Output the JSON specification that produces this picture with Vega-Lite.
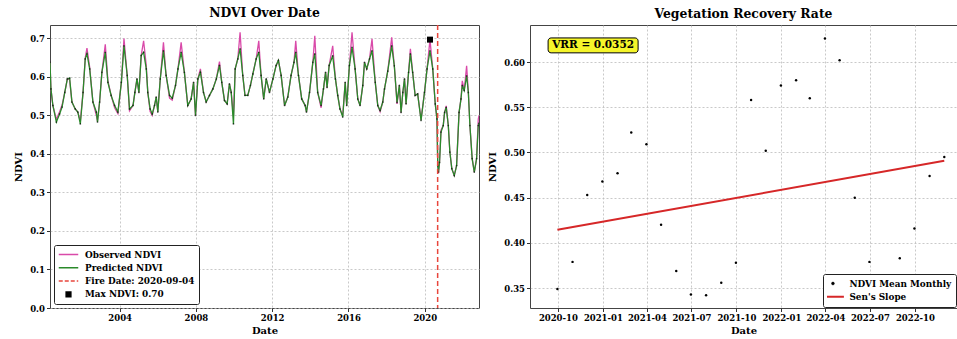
{
  "$schema": "https://vega.github.io/schema/vega-lite/v6.json",
  "background": "white",
  "padding": {"left": 13, "top": 6, "right": 1, "bottom": 2},
  "spacing": 7,
  "config": {
    "font": "DejaVu Serif",
    "view": {"stroke": "#444", "strokeWidth": 1},
    "axis": {"labelFont": "DejaVu Serif", "labelFontWeight": "bold", "labelFontSize": 8.5, "labelColor": "black", "titleFont": "DejaVu Serif", "titleFontWeight": "bold", "titleFontSize": 10, "titleColor": "black", "domain": false, "tickColor": "#333", "tickSize": 3.5, "gridColor": "#bbbbbb", "gridDash": [2, 2], "gridWidth": 0.8, "labelOverlap": false, "labelFlush": false},
    "title": {"font": "DejaVu Serif", "fontWeight": "bold", "fontSize": 12.4, "color": "black", "offset": 5},
    "legend": {"labelFont": "DejaVu Serif", "labelFontWeight": "bold", "labelFontSize": 8.9, "labelColor": "black"}
  },
  "datasets": {
    "ndvi": [
      {"date": "2000-05-07", "obs": 0.638, "pred": 0.638},
      {"date": "2000-05-25", "obs": 0.569, "pred": 0.569},
      {"date": "2000-07-01", "obs": 0.526, "pred": 0.526},
      {"date": "2000-09-06", "obs": 0.49, "pred": 0.483},
      {"date": "2000-11-07", "obs": 0.51, "pred": 0.504},
      {"date": "2000-12-24", "obs": 0.527, "pred": 0.522},
      {"date": "2001-02-14", "obs": 0.56, "pred": 0.56},
      {"date": "2001-04-04", "obs": 0.595, "pred": 0.595},
      {"date": "2001-05-18", "obs": 0.593, "pred": 0.597},
      {"date": "2001-07-01", "obs": 0.535, "pred": 0.535},
      {"date": "2001-09-02", "obs": 0.517, "pred": 0.517},
      {"date": "2001-10-22", "obs": 0.509, "pred": 0.509},
      {"date": "2001-12-09", "obs": 0.485, "pred": 0.478},
      {"date": "2002-01-30", "obs": 0.56, "pred": 0.56},
      {"date": "2002-03-13", "obs": 0.65, "pred": 0.647},
      {"date": "2002-04-15", "obs": 0.675, "pred": 0.66},
      {"date": "2002-06-06", "obs": 0.625, "pred": 0.621},
      {"date": "2002-08-07", "obs": 0.535, "pred": 0.535},
      {"date": "2002-10-12", "obs": 0.5, "pred": 0.509},
      {"date": "2002-11-03", "obs": 0.485, "pred": 0.483},
      {"date": "2002-12-13", "obs": 0.535, "pred": 0.535},
      {"date": "2003-01-26", "obs": 0.612, "pred": 0.612},
      {"date": "2003-04-01", "obs": 0.685, "pred": 0.664},
      {"date": "2003-05-21", "obs": 0.59, "pred": 0.586},
      {"date": "2003-07-22", "obs": 0.552, "pred": 0.552},
      {"date": "2003-09-27", "obs": 0.52, "pred": 0.526},
      {"date": "2003-11-28", "obs": 0.505, "pred": 0.509},
      {"date": "2004-02-03", "obs": 0.586, "pred": 0.586},
      {"date": "2004-03-24", "obs": 0.7, "pred": 0.681},
      {"date": "2004-05-25", "obs": 0.604, "pred": 0.604},
      {"date": "2004-07-08", "obs": 0.512, "pred": 0.517},
      {"date": "2004-09-13", "obs": 0.526, "pred": 0.526},
      {"date": "2004-10-19", "obs": 0.56, "pred": 0.56},
      {"date": "2004-11-28", "obs": 0.595, "pred": 0.595},
      {"date": "2005-01-04", "obs": 0.56, "pred": 0.56},
      {"date": "2005-02-17", "obs": 0.656, "pred": 0.656},
      {"date": "2005-04-04", "obs": 0.694, "pred": 0.664},
      {"date": "2005-05-25", "obs": 0.63, "pred": 0.621},
      {"date": "2005-06-23", "obs": 0.56, "pred": 0.56},
      {"date": "2005-08-07", "obs": 0.51, "pred": 0.517},
      {"date": "2005-09-16", "obs": 0.5, "pred": 0.504},
      {"date": "2005-10-30", "obs": 0.526, "pred": 0.526},
      {"date": "2005-12-02", "obs": 0.548, "pred": 0.548},
      {"date": "2006-01-01", "obs": 0.509, "pred": 0.509},
      {"date": "2006-02-17", "obs": 0.595, "pred": 0.595},
      {"date": "2006-04-19", "obs": 0.69, "pred": 0.668},
      {"date": "2006-06-09", "obs": 0.604, "pred": 0.604},
      {"date": "2006-08-14", "obs": 0.545, "pred": 0.552},
      {"date": "2006-10-04", "obs": 0.54, "pred": 0.545},
      {"date": "2006-12-06", "obs": 0.578, "pred": 0.578},
      {"date": "2007-01-22", "obs": 0.621, "pred": 0.621},
      {"date": "2007-03-24", "obs": 0.69, "pred": 0.664},
      {"date": "2007-05-25", "obs": 0.612, "pred": 0.612},
      {"date": "2007-07-29", "obs": 0.526, "pred": 0.526},
      {"date": "2007-10-01", "obs": 0.543, "pred": 0.543},
      {"date": "2007-11-17", "obs": 0.586, "pred": 0.586},
      {"date": "2007-12-24", "obs": 0.5, "pred": 0.5},
      {"date": "2008-02-07", "obs": 0.595, "pred": 0.595},
      {"date": "2008-03-27", "obs": 0.621, "pred": 0.612},
      {"date": "2008-05-25", "obs": 0.56, "pred": 0.56},
      {"date": "2008-07-15", "obs": 0.535, "pred": 0.535},
      {"date": "2008-09-16", "obs": 0.552, "pred": 0.552},
      {"date": "2008-11-21", "obs": 0.569, "pred": 0.569},
      {"date": "2009-01-26", "obs": 0.595, "pred": 0.595},
      {"date": "2009-03-27", "obs": 0.64, "pred": 0.63},
      {"date": "2009-05-10", "obs": 0.586, "pred": 0.586},
      {"date": "2009-07-01", "obs": 0.539, "pred": 0.539},
      {"date": "2009-08-21", "obs": 0.53, "pred": 0.53},
      {"date": "2009-10-04", "obs": 0.582, "pred": 0.582},
      {"date": "2009-11-07", "obs": 0.56, "pred": 0.56},
      {"date": "2009-12-20", "obs": 0.5, "pred": 0.478},
      {"date": "2010-01-22", "obs": 0.621, "pred": 0.621},
      {"date": "2010-03-13", "obs": 0.647, "pred": 0.647},
      {"date": "2010-04-26", "obs": 0.716, "pred": 0.673},
      {"date": "2010-06-16", "obs": 0.604, "pred": 0.604},
      {"date": "2010-07-29", "obs": 0.552, "pred": 0.552},
      {"date": "2010-09-20", "obs": 0.552, "pred": 0.552},
      {"date": "2010-11-10", "obs": 0.578, "pred": 0.578},
      {"date": "2010-12-27", "obs": 0.608, "pred": 0.608},
      {"date": "2011-02-28", "obs": 0.647, "pred": 0.647},
      {"date": "2011-04-19", "obs": 0.694, "pred": 0.664},
      {"date": "2011-06-02", "obs": 0.604, "pred": 0.604},
      {"date": "2011-07-22", "obs": 0.543, "pred": 0.543},
      {"date": "2011-09-09", "obs": 0.595, "pred": 0.595},
      {"date": "2011-11-10", "obs": 0.56, "pred": 0.56},
      {"date": "2012-01-15", "obs": 0.595, "pred": 0.595},
      {"date": "2012-03-16", "obs": 0.63, "pred": 0.63},
      {"date": "2012-04-29", "obs": 0.643, "pred": 0.643},
      {"date": "2012-06-20", "obs": 0.604, "pred": 0.604},
      {"date": "2012-08-25", "obs": 0.526, "pred": 0.526},
      {"date": "2012-10-26", "obs": 0.548, "pred": 0.548},
      {"date": "2012-12-27", "obs": 0.604, "pred": 0.604},
      {"date": "2013-02-21", "obs": 0.638, "pred": 0.638},
      {"date": "2013-03-27", "obs": 0.694, "pred": 0.664},
      {"date": "2013-05-18", "obs": 0.604, "pred": 0.604},
      {"date": "2013-07-19", "obs": 0.543, "pred": 0.543},
      {"date": "2013-09-23", "obs": 0.526, "pred": 0.526},
      {"date": "2013-10-19", "obs": 0.509, "pred": 0.509},
      {"date": "2013-12-16", "obs": 0.56, "pred": 0.56},
      {"date": "2014-02-17", "obs": 0.638, "pred": 0.638},
      {"date": "2014-03-27", "obs": 0.707, "pred": 0.66},
      {"date": "2014-05-21", "obs": 0.56, "pred": 0.56},
      {"date": "2014-07-26", "obs": 0.52, "pred": 0.526},
      {"date": "2014-09-09", "obs": 0.569, "pred": 0.569},
      {"date": "2014-10-19", "obs": 0.612, "pred": 0.612},
      {"date": "2014-11-17", "obs": 0.573, "pred": 0.573},
      {"date": "2014-12-27", "obs": 0.63, "pred": 0.63},
      {"date": "2015-03-05", "obs": 0.681, "pred": 0.655},
      {"date": "2015-04-26", "obs": 0.595, "pred": 0.595},
      {"date": "2015-06-09", "obs": 0.552, "pred": 0.552},
      {"date": "2015-07-22", "obs": 0.517, "pred": 0.517},
      {"date": "2015-09-13", "obs": 0.5, "pred": 0.496},
      {"date": "2015-10-30", "obs": 0.586, "pred": 0.586},
      {"date": "2015-11-28", "obs": 0.526, "pred": 0.526},
      {"date": "2016-01-19", "obs": 0.63, "pred": 0.63},
      {"date": "2016-03-09", "obs": 0.716, "pred": 0.677},
      {"date": "2016-05-07", "obs": 0.621, "pred": 0.621},
      {"date": "2016-06-27", "obs": 0.543, "pred": 0.543},
      {"date": "2016-08-10", "obs": 0.526, "pred": 0.526},
      {"date": "2016-10-01", "obs": 0.578, "pred": 0.578},
      {"date": "2016-11-03", "obs": 0.638, "pred": 0.638},
      {"date": "2016-12-16", "obs": 0.621, "pred": 0.621},
      {"date": "2017-02-07", "obs": 0.647, "pred": 0.647},
      {"date": "2017-03-27", "obs": 0.699, "pred": 0.668},
      {"date": "2017-05-28", "obs": 0.586, "pred": 0.586},
      {"date": "2017-07-15", "obs": 0.526, "pred": 0.526},
      {"date": "2017-08-29", "obs": 0.51, "pred": 0.513},
      {"date": "2017-10-19", "obs": 0.535, "pred": 0.535},
      {"date": "2017-11-21", "obs": 0.569, "pred": 0.569},
      {"date": "2018-01-22", "obs": 0.615, "pred": 0.615},
      {"date": "2018-04-08", "obs": 0.703, "pred": 0.681},
      {"date": "2018-05-28", "obs": 0.629, "pred": 0.629},
      {"date": "2018-07-19", "obs": 0.53, "pred": 0.534},
      {"date": "2018-09-02", "obs": 0.578, "pred": 0.578},
      {"date": "2018-10-04", "obs": 0.508, "pred": 0.508},
      {"date": "2018-11-07", "obs": 0.56, "pred": 0.56},
      {"date": "2018-12-09", "obs": 0.595, "pred": 0.595},
      {"date": "2019-01-08", "obs": 0.53, "pred": 0.53},
      {"date": "2019-02-25", "obs": 0.612, "pred": 0.612},
      {"date": "2019-04-01", "obs": 0.673, "pred": 0.66},
      {"date": "2019-05-14", "obs": 0.612, "pred": 0.612},
      {"date": "2019-07-01", "obs": 0.552, "pred": 0.552},
      {"date": "2019-08-18", "obs": 0.556, "pred": 0.556},
      {"date": "2019-10-22", "obs": 0.49, "pred": 0.487},
      {"date": "2019-12-27", "obs": 0.56, "pred": 0.56},
      {"date": "2020-02-14", "obs": 0.621, "pred": 0.621},
      {"date": "2020-04-10", "obs": 0.697, "pred": 0.668},
      {"date": "2020-06-02", "obs": 0.621, "pred": 0.621},
      {"date": "2020-07-20", "obs": 0.53, "pred": 0.53},
      {"date": "2020-08-22", "obs": 0.49, "pred": 0.491},
      {"date": "2020-09-06", "obs": 0.37, "pred": 0.37},
      {"date": "2020-09-20", "obs": 0.35, "pred": 0.353},
      {"date": "2020-10-10", "obs": 0.38, "pred": 0.378},
      {"date": "2020-11-07", "obs": 0.462, "pred": 0.457},
      {"date": "2020-12-20", "obs": 0.474, "pred": 0.474},
      {"date": "2021-01-15", "obs": 0.508, "pred": 0.508},
      {"date": "2021-02-15", "obs": 0.525, "pred": 0.521},
      {"date": "2021-03-27", "obs": 0.474, "pred": 0.474},
      {"date": "2021-04-26", "obs": 0.405, "pred": 0.405},
      {"date": "2021-06-02", "obs": 0.362, "pred": 0.362},
      {"date": "2021-07-19", "obs": 0.344, "pred": 0.344},
      {"date": "2021-09-02", "obs": 0.37, "pred": 0.37},
      {"date": "2021-10-19", "obs": 0.508, "pred": 0.508},
      {"date": "2021-11-25", "obs": 0.543, "pred": 0.543},
      {"date": "2021-12-20", "obs": 0.59, "pred": 0.578},
      {"date": "2022-01-26", "obs": 0.565, "pred": 0.565},
      {"date": "2022-03-13", "obs": 0.629, "pred": 0.603},
      {"date": "2022-04-15", "obs": 0.56, "pred": 0.56},
      {"date": "2022-05-15", "obs": 0.474, "pred": 0.474},
      {"date": "2022-06-27", "obs": 0.388, "pred": 0.388},
      {"date": "2022-08-07", "obs": 0.353, "pred": 0.353},
      {"date": "2022-09-20", "obs": 0.388, "pred": 0.388},
      {"date": "2022-10-22", "obs": 0.49, "pred": 0.474},
      {"date": "2022-11-05", "obs": 0.5, "pred": 0.48}
    ],
    "fire": [{"date": "2020-09-04"}],
    "maxpt": [{"date": "2020-04-10", "ndvi": 0.697}],
    "monthly": [
      {"date": "2020-09-30", "ndvi": 0.349},
      {"date": "2020-10-31", "ndvi": 0.379},
      {"date": "2020-11-30", "ndvi": 0.453},
      {"date": "2020-12-31", "ndvi": 0.468},
      {"date": "2021-01-31", "ndvi": 0.477},
      {"date": "2021-02-28", "ndvi": 0.522},
      {"date": "2021-03-31", "ndvi": 0.509},
      {"date": "2021-04-30", "ndvi": 0.42},
      {"date": "2021-05-31", "ndvi": 0.369},
      {"date": "2021-06-30", "ndvi": 0.343},
      {"date": "2021-07-31", "ndvi": 0.342},
      {"date": "2021-08-31", "ndvi": 0.356},
      {"date": "2021-09-30", "ndvi": 0.378},
      {"date": "2021-10-31", "ndvi": 0.558},
      {"date": "2021-11-30", "ndvi": 0.502},
      {"date": "2021-12-31", "ndvi": 0.574},
      {"date": "2022-01-31", "ndvi": 0.58},
      {"date": "2022-02-28", "ndvi": 0.56},
      {"date": "2022-03-31", "ndvi": 0.626},
      {"date": "2022-04-30", "ndvi": 0.602},
      {"date": "2022-05-31", "ndvi": 0.45},
      {"date": "2022-06-30", "ndvi": 0.379},
      {"date": "2022-08-31", "ndvi": 0.383},
      {"date": "2022-09-30", "ndvi": 0.416},
      {"date": "2022-10-31", "ndvi": 0.474},
      {"date": "2022-11-30", "ndvi": 0.495}
    ],
    "sen": [
      {"date": "2020-09-30", "ndvi": 0.4145},
      {"date": "2022-11-30", "ndvi": 0.4908}
    ],
    "one": [{"label": "VRR = 0.0352"}]
  },
  "resolve": {"scale": {"color": "independent", "x": "independent", "y": "independent"}, "legend": {"color": "independent"}},
  "hconcat": [
    {
      "title": {"text": "NDVI Over Date"},
      "width": 429,
      "height": 283,
      "layer": [
        {
          "data": {"name": "ndvi"},
          "mark": {"type": "line", "strokeWidth": 1.3, "clip": true},
          "encoding": {
            "x": {"field": "date", "type": "temporal", "title": "Date",
              "scale": {"domain": [{"year": 2000, "month": 5, "date": 7}, {"year": 2022, "month": 11, "date": 5}], "nice": false},
              "axis": {"values": [{"year": 2004, "month": 1, "date": 1}, {"year": 2008, "month": 1, "date": 1}, {"year": 2012, "month": 1, "date": 1}, {"year": 2016, "month": 1, "date": 1}, {"year": 2020, "month": 1, "date": 1}], "format": "%Y", "titlePadding": 3}},
            "y": {"field": "obs", "type": "quantitative", "title": "NDVI",
              "scale": {"domain": [0, 0.735], "nice": false, "zero": false},
              "axis": {"values": [0, 0.1, 0.2, 0.3, 0.4, 0.5, 0.6, 0.7], "format": ".1f", "titlePadding": 6}},
            "color": {"datum": "Observed NDVI", "type": "nominal",
              "scale": {"domain": ["Observed NDVI", "Predicted NDVI", "Fire Date: 2020-09-04", "Max NDVI: 0.70"], "range": ["#d94aa9", "#2a8a2a", "#e8463c", "black"]},
              "legend": {"title": null, "orient": "bottom-left", "offset": 4, "fillColor": "white", "strokeColor": "#222", "padding": 4, "cornerRadius": 2, "rowPadding": 2.3, "clipHeight": 11, "labelOffset": 6, "symbolOffset": 0, "symbolSize": 100, "symbolStrokeWidth": 1.5,
                "encode": {"symbols": {"update": {
                  "shape": {"signal": "datum.value === 'Max NDVI: 0.70' ? 'square' : 'stroke'"},
                  "size": {"signal": "datum.value === 'Max NDVI: 0.70' ? 22 : 380"},
                  "fill": {"signal": "datum.value === 'Max NDVI: 0.70' ? 'black' : 'transparent'"},
                  "stroke": {"signal": "datum.value === 'Observed NDVI' ? '#d94aa9' : datum.value === 'Predicted NDVI' ? '#2a8a2a' : datum.value === 'Fire Date: 2020-09-04' ? '#e8463c' : 'black'"},
                  "strokeDash": {"signal": "datum.value === 'Fire Date: 2020-09-04' ? [4, 2] : [1, 0]"},
                  "strokeWidth": {"value": 1.5},
                  "opacity": {"value": 1}
                }}}}}
          }
        },
        {
          "data": {"name": "ndvi"},
          "mark": {"type": "line", "strokeWidth": 1.3, "clip": true},
          "encoding": {
            "x": {"field": "date", "type": "temporal", "title": "Date"},
            "y": {"field": "pred", "type": "quantitative", "title": "NDVI"},
            "color": {"datum": "Predicted NDVI", "type": "nominal"}
          }
        },
        {
          "data": {"name": "ndvi"},
          "mark": {"type": "point", "filled": true, "size": 3, "color": "black", "opacity": 0.6, "clip": true},
          "encoding": {
            "x": {"field": "date", "type": "temporal", "title": "Date"},
            "y": {"field": "pred", "type": "quantitative", "title": "NDVI"}
          }
        },
        {
          "data": {"name": "fire"},
          "mark": {"type": "rule", "strokeDash": [5, 3], "strokeWidth": 1.5, "opacity": 1},
          "encoding": {
            "x": {"field": "date", "type": "temporal", "title": "Date"},
            "color": {"datum": "Fire Date: 2020-09-04", "type": "nominal"}
          }
        },
        {
          "data": {"name": "maxpt"},
          "mark": {"type": "point", "shape": "square", "filled": true, "size": 36, "opacity": 1},
          "encoding": {
            "x": {"field": "date", "type": "temporal", "title": "Date"},
            "y": {"field": "ndvi", "type": "quantitative", "title": "NDVI"},
            "color": {"datum": "Max NDVI: 0.70", "type": "nominal"}
          }
        }
      ]
    },
    {
      "title": {"text": "Vegetation Recovery Rate"},
      "width": 427,
      "height": 283,
      "layer": [
        {
          "data": {"name": "sen"},
          "mark": {"type": "line", "strokeWidth": 2},
          "encoding": {
            "x": {"field": "date", "type": "temporal", "title": "Date",
              "scale": {"domain": [{"year": 2020, "month": 8, "date": 5}, {"year": 2022, "month": 12, "date": 26}], "nice": false},
              "axis": {"values": [{"year": 2020, "month": 10, "date": 1}, {"year": 2021, "month": 1, "date": 1}, {"year": 2021, "month": 4, "date": 1}, {"year": 2021, "month": 7, "date": 1}, {"year": 2021, "month": 10, "date": 1}, {"year": 2022, "month": 1, "date": 1}, {"year": 2022, "month": 4, "date": 1}, {"year": 2022, "month": 7, "date": 1}, {"year": 2022, "month": 10, "date": 1}], "format": "%Y-%m", "titlePadding": 3}},
            "y": {"field": "ndvi", "type": "quantitative", "title": "NDVI",
              "scale": {"domain": [0.328, 0.641], "nice": false, "zero": false},
              "axis": {"values": [0.35, 0.4, 0.45, 0.5, 0.55, 0.6], "format": ".2f", "titlePadding": 6}},
            "color": {"datum": "Sen's Slope", "type": "nominal",
              "scale": {"domain": ["NDVI Mean Monthly", "Sen's Slope"], "range": ["black", "#d62728"]},
              "legend": {"title": null, "orient": "bottom-right", "offset": 1.5, "fillColor": "white", "strokeColor": "#222", "padding": 4, "cornerRadius": 2, "rowPadding": 2.3, "clipHeight": 11, "labelOffset": 12, "symbolOffset": 1.5, "symbolSize": 100, "symbolStrokeWidth": 2,
                "encode": {"symbols": {"update": {
                  "shape": {"signal": "datum.value === 'NDVI Mean Monthly' ? 'circle' : 'stroke'"},
                  "size": {"signal": "datum.value === 'NDVI Mean Monthly' ? 8 : 480"},
                  "fill": {"signal": "datum.value === 'NDVI Mean Monthly' ? 'black' : 'transparent'"},
                  "stroke": {"signal": "datum.value === 'NDVI Mean Monthly' ? 'black' : '#d62728'"},
                  "strokeWidth": {"signal": "datum.value === 'NDVI Mean Monthly' ? 0.5 : 2"},
                  "opacity": {"value": 1}
                }}}}}
          }
        },
        {
          "data": {"name": "monthly"},
          "mark": {"type": "point", "filled": true, "size": 6, "opacity": 1},
          "encoding": {
            "x": {"field": "date", "type": "temporal", "title": "Date"},
            "y": {"field": "ndvi", "type": "quantitative", "title": "NDVI"},
            "color": {"datum": "NDVI Mean Monthly", "type": "nominal"}
          }
        },
        {
          "data": {"name": "one"},
          "mark": {"type": "rect", "fill": "#f5f52a", "stroke": "black", "strokeWidth": 1, "cornerRadius": 3},
          "encoding": {
            "x": {"datum": {"year": 2020, "month": 9, "date": 11}, "type": "temporal"},
            "x2": {"datum": {"year": 2021, "month": 3, "date": 14}},
            "y": {"datum": 0.6267, "type": "quantitative"},
            "y2": {"datum": 0.6102}
          }
        },
        {
          "data": {"name": "one"},
          "mark": {"type": "text", "fontWeight": "bold", "fontSize": 10.5, "font": "DejaVu Serif", "color": "black", "align": "center", "baseline": "middle"},
          "encoding": {
            "x": {"datum": {"year": 2020, "month": 12, "date": 12}, "type": "temporal"},
            "y": {"datum": 0.6185, "type": "quantitative"},
            "text": {"field": "label"}
          }
        }
      ]
    }
  ]
}
